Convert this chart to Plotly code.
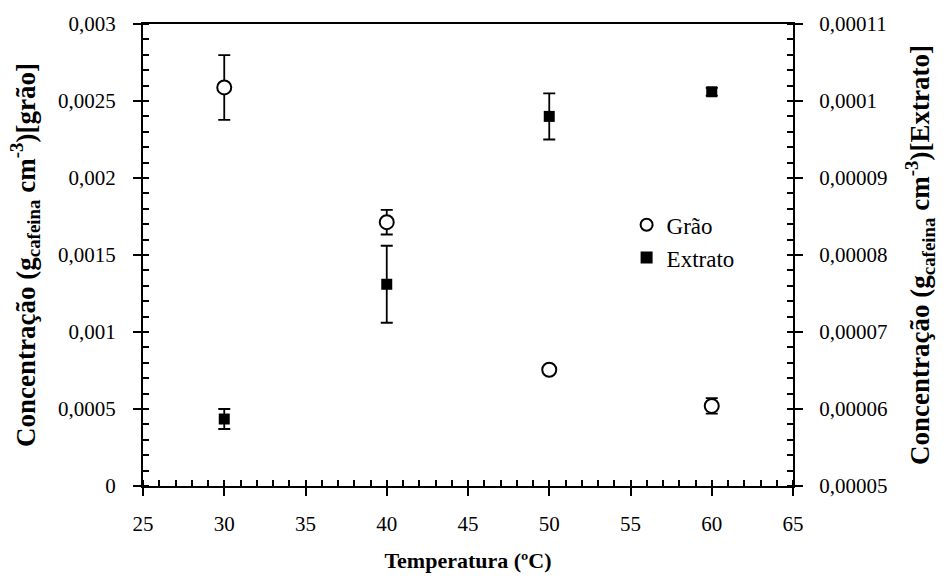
import plotly.graph_objects as go

temperatura = [30, 40, 50, 60]
grao = [0.002588, 0.001713, 0.000755, 0.00052]
grao_err = [0.00021, 0.00008, 0.0, 0.00005]
extrato = [0.0000587, 0.0000762, 0.0000980, 0.0001012]
extrato_err = [0.0000013, 0.000005, 0.000003, 0.0000005]

x_ticks = [25, 30, 35, 40, 45, 50, 55, 60, 65]
y1_ticks = [0, 0.0005, 0.001, 0.0015, 0.002, 0.0025, 0.003]
y1_text = ["0", "0,0005", "0,001", "0,0015", "0,002", "0,0025", "0,003"]
y2_ticks = [0.00005, 0.00006, 0.00007, 0.00008, 0.00009, 0.0001, 0.00011]
y2_text = ["0,00005", "0,00006", "0,00007", "0,00008", "0,00009", "0,0001", "0,00011"]

FONT = "Liberation Serif"
fig = go.Figure()
fig.add_trace(go.Scatter(
    x=temperatura, y=grao, mode="markers", name="Grão",
    marker=dict(symbol="circle", size=14, color="white", line=dict(width=2, color="black")),
    error_y=dict(type="data", array=grao_err, color="black", thickness=1.8, width=6),
    yaxis="y"))
fig.add_trace(go.Scatter(
    x=temperatura, y=extrato, mode="markers", name="Extrato",
    marker=dict(symbol="square", size=11, color="black"),
    error_y=dict(type="data", array=extrato_err, color="black", thickness=1.8, width=6),
    yaxis="y2"))

xr = [25, 65]
y1r = [0, 0.003]
y2r = [0.00005, 0.00011]
tickfont = dict(family=FONT, size=21, color="black")
xtitlefont = dict(family=FONT, size=22, color="black")
ytitlefont = dict(family=FONT, size=27, color="black")

fig.update_layout(
    width=946, height=581,
    margin=dict(l=143, r=153, t=24, b=95),
    paper_bgcolor="white", plot_bgcolor="white",
    font=dict(family=FONT, color="black"),
    showlegend=True,
    legend=dict(x=0.744, y=0.612, xanchor="left", yanchor="top",
                font=dict(family=FONT, size=23, color="black"),
                bgcolor="rgba(0,0,0,0)", itemsizing="constant"),
    xaxis=dict(range=xr, tickvals=x_ticks, ticktext=[str(v) for v in x_ticks],
               ticks="outside", ticklen=8, tickwidth=2, tickcolor="black", ticklabelstandoff=10,
               minor=dict(ticks="inside", dtick=1, ticklen=6, tickwidth=1.5, tickcolor="black"),
               showline=True, linewidth=2, linecolor="black", mirror=True,
               showgrid=False, zeroline=False, tickfont=tickfont, automargin=False,
               title=dict(text="<b>Temperatura (ºC)</b>", font=xtitlefont, standoff=17)),
    xaxis2=dict(range=xr, overlaying="x", side="top", anchor="y", tickvals=x_ticks,
                ticks="inside", ticklen=6, tickwidth=2, tickcolor="black",
                minor=dict(ticks="inside", dtick=1, ticklen=6, tickwidth=1.5, tickcolor="black"),
                showticklabels=False, showline=False, showgrid=False, zeroline=False, automargin=False),
    xaxis3=dict(range=xr, overlaying="x", side="bottom", anchor="y", tickvals=x_ticks,
                ticks="inside", ticklen=6, tickwidth=2, tickcolor="black",
                showticklabels=False, showline=False, showgrid=False, zeroline=False, automargin=False),
    yaxis=dict(range=y1r, tickvals=y1_ticks, ticktext=y1_text,
               ticks="outside", ticklen=8, tickwidth=2, tickcolor="black", ticklabelstandoff=13,
               minor=dict(ticks="inside", dtick=0.0001, ticklen=6, tickwidth=1.5, tickcolor="black"),
               showline=True, linewidth=2, linecolor="black",
               showgrid=False, zeroline=False, tickfont=tickfont, automargin=False,
               title=dict(text="<b>Concentração (g<sub>cafeina</sub> cm<sup>-3</sup>)[grão]</b>",
                          font=ytitlefont, standoff=15)),
    yaxis2=dict(range=y2r, overlaying="y", side="right", anchor="x", tickvals=y2_ticks, ticktext=y2_text,
                ticks="outside", ticklen=8, tickwidth=2, tickcolor="black", ticklabelstandoff=12,
                minor=dict(ticks="inside", dtick=0.000002, ticklen=6, tickwidth=1.5, tickcolor="black"),
                showline=True, linewidth=2, linecolor="black",
                showgrid=False, zeroline=False, tickfont=tickfont, automargin=False,
                title=dict(text="<b>Concentração (g<sub>cafeina</sub> cm<sup>-3</sup>)[Extrato]</b>",
                           font=ytitlefont, standoff=24)),
    yaxis3=dict(range=y1r, overlaying="y", side="left", anchor="x", tickvals=y1_ticks,
                ticks="inside", ticklen=6, tickwidth=2, tickcolor="black",
                showticklabels=False, showline=False, showgrid=False, zeroline=False, automargin=False),
    yaxis4=dict(range=y2r, overlaying="y", side="right", anchor="x", tickvals=y2_ticks,
                ticks="inside", ticklen=6, tickwidth=2, tickcolor="black",
                showticklabels=False, showline=False, showgrid=False, zeroline=False, automargin=False),
)

fig.write_html("out.html")
